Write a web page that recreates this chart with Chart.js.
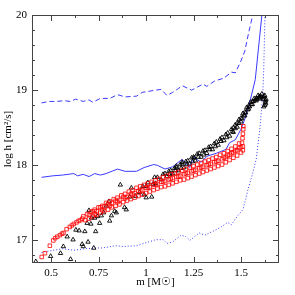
<!DOCTYPE html>
<html>
<head>
<meta charset="utf-8">
<script src="https://cdn.jsdelivr.net/npm/chart.js@4"></script>
<style>
  html, body { margin: 0; padding: 0; background: #fff; }
  #wrap { width: 295px; height: 295px; }
</style>
</head>
<body>
<div id="wrap"><canvas id="chart"></canvas></div>
<script>
// axis ticks
const xTicks = [0.5, 0.75, 1, 1.25, 1.5]
const yTicks = [17, 18, 19, 20]

// blue dashed curve
const dashX = [0.45,0.49,0.53,0.57,0.60,0.63,0.67,0.70,0.72,0.76,0.81,0.85,0.89,0.95,0.98,1.05,1.08,1.11,1.14,1.17,1.19,1.24,1.27,1.30,1.32,1.36,1.41,1.45,1.47,1.50,1.52,1.54,1.56,1.58]
const dashY = [18.83,18.85,18.85,18.86,18.85,18.88,18.85,18.87,18.84,18.89,18.89,18.94,18.91,18.92,18.97,19.00,19.01,18.93,18.97,19.02,19.06,19.00,19.04,19.08,19.05,19.12,19.16,19.24,19.23,19.39,19.52,19.76,19.98,20.3]

// blue solid curve
const solidX = [0.45,0.51,0.56,0.62,0.64,0.67,0.70,0.73,0.76,0.79,0.85,0.89,0.95,0.99,1.04,1.06,1.10,1.14,1.19,1.23,1.25,1.29,1.32,1.37,1.42,1.44,1.47,1.50,1.525,1.55,1.575,1.61,1.625]
const solidY = [17.84,17.86,17.87,17.89,17.86,17.88,17.85,17.89,17.87,17.89,17.95,17.92,17.92,17.97,18.01,18.00,17.95,17.98,18.08,17.97,18.11,18.04,18.12,18.16,18.21,18.30,18.34,18.48,18.65,18.88,19.14,20.0,20.3]

// blue dotted curve
const dotX = [0.45,0.49,0.56,0.62,0.68,0.74,0.77,0.84,0.88,0.95,1.00,1.04,1.05,1.09,1.11,1.14,1.185,1.21,1.23,1.28,1.31,1.35,1.39,1.43,1.45,1.48,1.51,1.525,1.535,1.56,1.58,1.60,1.615,1.62,1.626]
const dotY = [16.84,16.86,16.89,16.87,16.89,16.90,16.90,16.93,16.92,16.93,16.97,17.00,17.01,17.01,16.96,16.98,17.07,17.05,17.00,17.10,17.07,17.12,17.17,17.24,17.21,17.32,17.41,17.55,17.66,17.88,18.08,18.50,18.97,19.30,20.0]

// red squares
const redPts = [
  [0.451,16.78],[0.468,16.83],[0.494,16.93],[0.512,17.00],[0.522,17.03],[0.533,17.05],[0.547,17.07],[0.558,17.09],
  [0.566,17.10],[0.582,17.15],[0.599,17.18],[0.61,17.20],[0.62,17.22],[0.634,17.24],[0.645,17.26],[0.655,17.27],[0.665,17.29],
  [0.67,17.32],[0.69,17.35],[0.71,17.38],[0.73,17.41],[0.75,17.44],[0.77,17.46],[0.79,17.50],[0.81,17.52],[0.83,17.55],
  [0.85,17.57],[0.87,17.60],[0.89,17.62],[0.91,17.65],[0.93,17.67],[0.95,17.70],[0.97,17.72],[0.99,17.74],[1.01,17.76],
  [1.03,17.78],[1.05,17.80],[1.07,17.82],[1.09,17.84],[1.11,17.86],[1.13,17.88],[1.15,17.89],[1.17,17.91],[1.19,17.93],
  [1.21,17.95],[1.23,17.97],[1.25,17.99],[1.27,18.01],[1.29,18.03],[1.31,18.05],[1.33,18.07],[1.35,18.09],[1.37,18.11],
  [1.39,18.14],[1.41,18.16],[1.43,18.19],[1.45,18.22],[1.47,18.25],[1.49,18.29],
  [0.68,17.27],[0.70,17.29],[0.72,17.32],[0.74,17.34],[0.76,17.37],[0.78,17.39],[0.80,17.41],[0.82,17.44],[0.84,17.46],
  [0.86,17.48],[0.88,17.51],[0.90,17.53],[0.92,17.55],[0.94,17.57],[0.96,17.59],[0.98,17.61],[1.00,17.63],[1.02,17.65],
  [1.04,17.67],[1.06,17.69],[1.08,17.71],[1.10,17.72],[1.12,17.74],[1.14,17.76],[1.16,17.78],[1.18,17.80],[1.20,17.81],
  [1.22,17.83],[1.24,17.85],[1.26,17.87],[1.28,17.89],[1.30,17.91],[1.32,17.93],[1.34,17.95],[1.36,17.97],[1.38,17.99],
  [1.40,18.01],[1.42,18.04],[1.44,18.07],[1.46,18.10],[1.48,18.13],[1.50,18.17],
  [0.70,17.34],[0.74,17.39],[0.78,17.45],[0.82,17.50],[0.86,17.54],[0.90,17.58],[0.94,17.63],[0.98,17.67],[1.02,17.71],
  [1.06,17.75],[1.10,17.79],[1.14,17.83],[1.18,17.86],[1.22,17.90],[1.26,17.94],[1.30,17.98],[1.34,18.02],[1.38,18.06],
  [1.42,18.11],[1.46,18.17],[1.50,18.24],
  [0.72,17.39],[0.76,17.44],[0.80,17.48],[0.84,17.53],[0.88,17.58],[0.92,17.62],[0.96,17.66],[1.00,17.70],[1.04,17.74],
  [1.08,17.78],[1.12,17.81],[1.16,17.85],[1.20,17.88],[1.24,17.92],[1.28,17.96],[1.32,18.00],[1.36,18.04],[1.40,18.08],
  [1.44,18.14],[1.48,18.20],
  [0.73,17.35],[0.77,17.40],[0.81,17.46],[0.85,17.51],[0.89,17.56],[0.93,17.61],[0.97,17.66],[1.01,17.70],[1.05,17.74],
  [1.09,17.78],[1.13,17.82],[1.17,17.85],[1.21,17.89],[1.25,17.93],[1.29,17.97],[1.33,18.01],[1.37,18.05],[1.41,18.10],
  [1.43,18.13],[1.45,18.16],[1.47,18.19],[1.49,18.23],
  [1.505,18.30],[1.508,18.36],[1.51,18.42],[1.512,18.48],[1.512,18.52],[1.51,18.20],[1.51,18.25]
]

// black triangles
const blackPts = [
  [0.42,16.72],[0.498,16.79],[0.55,16.83],[0.565,16.92],[0.585,17.05],[0.603,16.75],[0.616,17.01],[0.631,17.14],
  [0.648,17.13],[0.664,16.95],[0.67,16.92],[0.678,17.12],[0.69,17.23],[0.695,16.98],[0.70,17.40],[0.71,17.22],
  [0.713,17.30],[0.725,16.90],[0.73,17.30],[0.735,17.12],[0.744,17.32],[0.756,17.23],[0.765,17.33],[0.777,17.37],
  [0.791,17.46],[0.805,17.52],[0.809,17.26],[0.818,17.33],[0.835,17.39],[0.844,17.37],[0.865,17.74],[0.887,17.44],
  [0.896,17.41],[0.914,17.58],[0.923,17.70],[0.945,17.59],[0.966,17.64],[0.983,17.72],[1.001,17.57],[1.01,17.77],
  [1.036,17.75],[1.045,17.84],[1.001,17.72],[1.03,17.58],[0.99,17.61],
  [1.06,17.84],[1.09,17.88],[1.12,17.92],[1.15,17.96],[1.18,18.01],[1.21,18.05],[1.24,18.10],[1.27,18.15],[1.30,18.19],
  [1.33,18.24],[1.36,18.29],[1.39,18.35],[1.42,18.41],[1.45,18.48],[1.47,18.54],[1.49,18.61],[1.51,18.69],[1.53,18.77],
  [1.55,18.84],[1.57,18.89],[1.59,18.93],[1.61,18.95],[1.625,18.93],
  [1.05,17.76],[1.08,17.81],[1.11,17.85],[1.14,17.89],[1.17,17.93],[1.20,17.97],[1.23,18.02],[1.26,18.06],[1.29,18.11],
  [1.32,18.16],[1.35,18.21],[1.38,18.27],[1.41,18.33],[1.44,18.39],[1.46,18.44],[1.48,18.51],[1.50,18.58],[1.52,18.66],
  [1.54,18.75],[1.56,18.81],[1.58,18.86],[1.60,18.89],[1.615,18.88],[1.628,18.84],[1.625,18.80],[1.62,18.78],
  [1.155,17.93],[1.215,18.01],[1.275,18.11],[1.335,18.21],[1.395,18.32],[1.455,18.45],[1.515,18.66],[1.545,18.78],
  [1.575,18.87],[1.605,18.91],[1.63,18.86],[1.16,17.99],[1.19,18.04],[1.254,18.10],
  [1.10,17.89],[1.13,17.93],[1.16,17.97],[1.19,18.02],[1.22,18.06],[1.25,18.11],[1.28,18.16],[1.31,18.20],[1.34,18.25],
  [1.37,18.31],[1.40,18.37],[1.43,18.43],[1.46,18.50],[1.48,18.56],[1.50,18.63],[1.52,18.71],[1.54,18.79],[1.56,18.85],
  [1.58,18.89],[1.60,18.92],[1.62,18.92],
  [1.125,17.88],[1.185,17.96],[1.245,18.05],[1.305,18.14],[1.365,18.25],[1.425,18.37],[1.47,18.49],[1.49,18.56],
  [1.505,18.62],[1.525,18.70],[1.535,18.74],[1.555,18.81],[1.565,18.85],[1.585,18.88],[1.595,18.91],[1.618,18.90],
  [1.632,18.88],[1.63,18.82]
]

const blue = "#3a3aff"
const font = { family: "Liberation Serif", size: 11 }

function xy(xs, ys) {
    return xs.map((v, i) => ({ x: v, y: ys[i] }))
}
function pts(list) {
    return list.map(p => ({ x: p[0], y: p[1] }))
}

// inward ticks on all four sides plus the frame
const frame = {
    id: "frame",
    afterDraw(chart) {
        const { ctx, chartArea: a, scales: { x, y } } = chart
        ctx.save()
        ctx.strokeStyle = "#444"
        ctx.lineWidth = 1
        ctx.strokeRect(a.left + 0.5, a.top + 0.5, a.right - a.left - 1, a.bottom - a.top - 1)
        for (let k = 0; k <= 9; k++) {
            const v = 0.5 + k * 0.125
            const px = Math.round(x.getPixelForValue(v)) + 0.5
            const len = k % 2 == 0 ? 6 : 3
            ctx.beginPath()
            ctx.moveTo(px, a.bottom); ctx.lineTo(px, a.bottom - len)
            ctx.moveTo(px, a.top); ctx.lineTo(px, a.top + len)
            ctx.stroke()
        }
        for (let k = 0; k <= 16; k++) {
            const v = 16.8 + k * 0.2
            const py = Math.round(y.getPixelForValue(v)) + 0.5
            const len = k % 5 == 1 ? 6 : 3
            ctx.beginPath()
            ctx.moveTo(a.left, py); ctx.lineTo(a.left + len, py)
            ctx.moveTo(a.right, py); ctx.lineTo(a.right - len, py)
            ctx.stroke()
        }
        ctx.restore()
    }
}

new Chart(document.getElementById("chart"), {
    type: "scatter",
    data: {
        datasets: [
            {
                data: pts(redPts),
                pointStyle: "rect",
                pointRadius: 2.5,
                borderColor: "#ff0000",
                backgroundColor: "transparent",
                borderWidth: 0.8,
            },
            {
                data: pts(blackPts),
                pointStyle: "triangle",
                pointRadius: 2.5,
                borderColor: "#000",
                backgroundColor: "transparent",
                borderWidth: 0.9,
            },
            {
                data: xy(dashX, dashY),
                showLine: true,
                pointRadius: 0,
                borderColor: blue,
                borderWidth: 1,
                borderDash: [5, 3],
            },
            {
                data: xy(solidX, solidY),
                showLine: true,
                pointRadius: 0,
                borderColor: blue,
                borderWidth: 1,
            },
            {
                data: xy(dotX, dotY),
                showLine: true,
                pointRadius: 0,
                borderColor: blue,
                borderWidth: 1,
                borderDash: [1, 2],
            },
        ]
    },
    options: {
        responsive: true,
        maintainAspectRatio: false,
        animation: false,
        layout: { padding: { left: 0, top: 15, right: 16, bottom: 0 } },
        plugins: {
            legend: { display: false },
            tooltip: { enabled: false },
        },
        scales: {
            x: {
                min: 0.4,
                max: 1.7,
                afterBuildTicks: s => { s.ticks = xTicks.map(v => ({ value: v })) },
                afterFit: s => { s.height = 32 },
                grid: { display: false, drawTicks: false },
                border: { display: false },
                ticks: { color: "#000", font: font, padding: 4, maxRotation: 0, callback: v => String(v) },
                title: { display: true, text: "m [M☉]", color: "#000", font: font, padding: { top: 0, bottom: 6 } },
            },
            y: {
                min: 16.7,
                max: 20,
                afterBuildTicks: s => { s.ticks = yTicks.map(v => ({ value: v })) },
                afterFit: s => { s.width = 32 },
                grid: { display: false, drawTicks: false },
                border: { display: false },
                ticks: { color: "#000", font: font, padding: 5, callback: v => String(v) },
                title: { display: true, text: "log h [cm²/s]", color: "#000", font: font, padding: { top: 2, bottom: 0 } },
            }
        }
    },
    plugins: [frame]
})
</script>
</body>
</html>
